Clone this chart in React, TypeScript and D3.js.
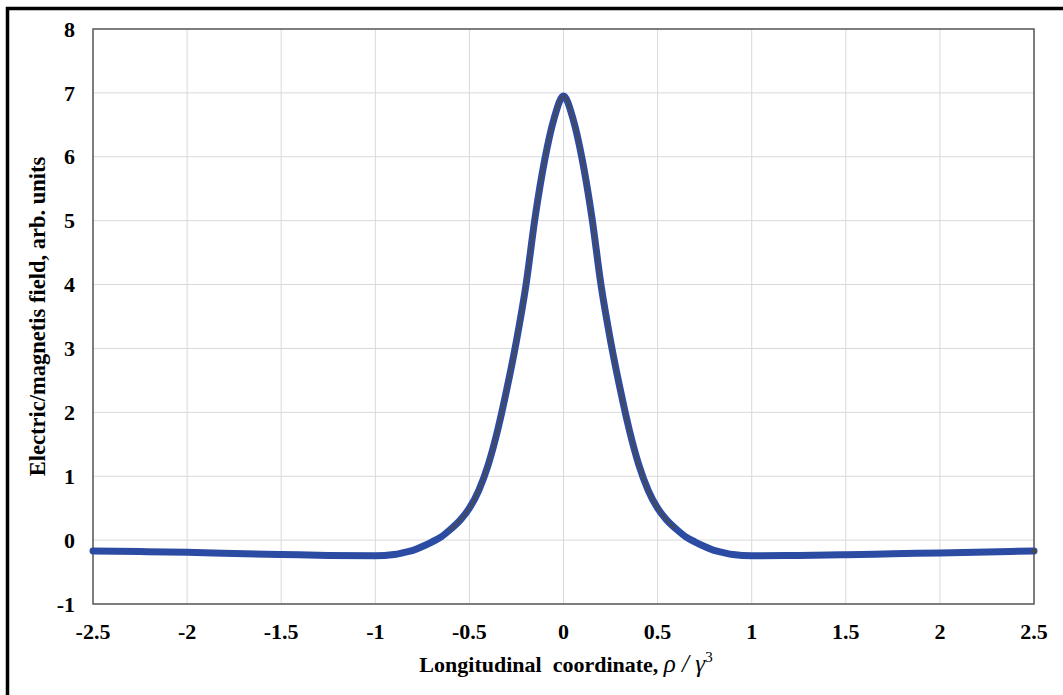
import React from "react";
import * as d3 from "d3";

// values
const xs = [
  -2.5, -2.25, -2, -1.75, -1.5, -1.25, -1, -0.9, -0.85, -0.8, -0.75, -0.7, -0.65, -0.6, -0.55, -0.5, -0.45, -0.4, -0.35,
  -0.3, -0.25, -0.2, -0.15, -0.1, -0.05, 0, 0.05, 0.1, 0.15, 0.2, 0.25, 0.3, 0.35, 0.4, 0.45, 0.5, 0.55, 0.6, 0.65, 0.7,
  0.75, 0.8, 0.85, 0.9, 1, 1.25, 1.5, 1.75, 2, 2.25, 2.5,
];
const field = [
  -0.17, -0.18, -0.19, -0.21, -0.225, -0.24, -0.245, -0.225, -0.195, -0.16, -0.1, -0.03, 0.05, 0.17, 0.31, 0.5, 0.78,
  1.18, 1.72, 2.38, 3.12, 3.98, 5.07, 5.95, 6.6, 6.95, 6.6, 5.95, 5.07, 3.98, 3.12, 2.38, 1.72, 1.18, 0.78, 0.5, 0.31,
  0.17, 0.05, -0.03, -0.1, -0.16, -0.195, -0.225, -0.245, -0.24, -0.23, -0.215, -0.2, -0.185, -0.17,
];
const xTicks = [-2.5, -2, -1.5, -1, -0.5, 0, 0.5, 1, 1.5, 2, 2.5];
const yTicks = [-1, 0, 1, 2, 3, 4, 5, 6, 7, 8];

const W = 1063;
const H = 695;
const plot = { left: 93, right: 1034, top: 29, bottom: 604 };
const serif = "'Liberation Serif', 'Times New Roman', serif";

export default function App() {
  const x = d3.scaleLinear().domain([-2.5, 2.5]).range([plot.left, plot.right]);
  const y = d3.scaleLinear().domain([-1, 8]).range([plot.bottom, plot.top]);

  const pts = xs.map((v, i) => [v, field[i]] as [number, number]);
  const line = d3
    .line<[number, number]>()
    .x((d) => x(d[0]))
    .y((d) => y(d[1]))
    .curve(d3.curveMonotoneX);

  // markers show through only where the curve is steep
  const mid = pts.filter((d) => Math.abs(d[0]) <= 0.6);

  return (
    <div style={{ position: "fixed", left: 0, top: 0 }}>
      <svg width={W} height={H} style={{ display: "block", background: "#fff" }}>
        <rect x={7.5} y={8.5} width={1100} height={720} fill="none" stroke="#000" strokeWidth={3.5} />

        {xTicks.map((t) => (
          <line key={"gx" + t} x1={x(t)} x2={x(t)} y1={plot.top} y2={plot.bottom} stroke="#d9d9d9" strokeWidth={1} />
        ))}
        {yTicks.map((t) => (
          <line key={"gy" + t} x1={plot.left} x2={plot.right} y1={y(t)} y2={y(t)} stroke="#d9d9d9" strokeWidth={1} />
        ))}
        <rect
          x={plot.left}
          y={plot.top}
          width={plot.right - plot.left}
          height={plot.bottom - plot.top}
          fill="none"
          stroke="#595959"
          strokeWidth={1.5}
        />

        <path d={line(pts) ?? ""} fill="none" stroke="#2c4ca4" strokeWidth={7} strokeLinecap="round" strokeLinejoin="round" />
        <path
          d={line(mid) ?? ""}
          fill="none"
          stroke="#4a4a4e"
          strokeWidth={3.2}
          strokeDasharray="0 3.6"
          strokeLinecap="round"
        />
        <circle cx={x(2.5)} cy={y(field[field.length - 1])} r={2.5} fill="#4a4a4e" />

        {yTicks.map((t) => (
          <text
            key={"ty" + t}
            x={75}
            y={y(t)}
            dy="0.35em"
            textAnchor="end"
            fontFamily={serif}
            fontWeight="bold"
            fontSize={22}
          >
            {t}
          </text>
        ))}
        {xTicks.map((t) => (
          <text
            key={"tx" + t}
            x={x(t)}
            y={639}
            textAnchor="middle"
            fontFamily={serif}
            fontWeight="bold"
            fontSize={22}
          >
            {t}
          </text>
        ))}

        <text x={566} y={672} textAnchor="middle" fontFamily={serif} fontSize={22} style={{ whiteSpace: "pre" }}>
          <tspan fontWeight="bold">{"Longitudinal  coordinate, "}</tspan>
          <tspan fontStyle="italic" fontSize={25}>{"ρ / γ"}</tspan>
          <tspan fontSize={15} dy={-10}>
            3
          </tspan>
        </text>

        <text
          transform={`translate(45,${(plot.top + plot.bottom) / 2}) rotate(-90)`}
          textAnchor="middle"
          fontFamily={serif}
          fontWeight="bold"
          fontSize={22.5}
        >
          Electric/magnetis field, arb. units
        </text>
      </svg>
    </div>
  );
}
